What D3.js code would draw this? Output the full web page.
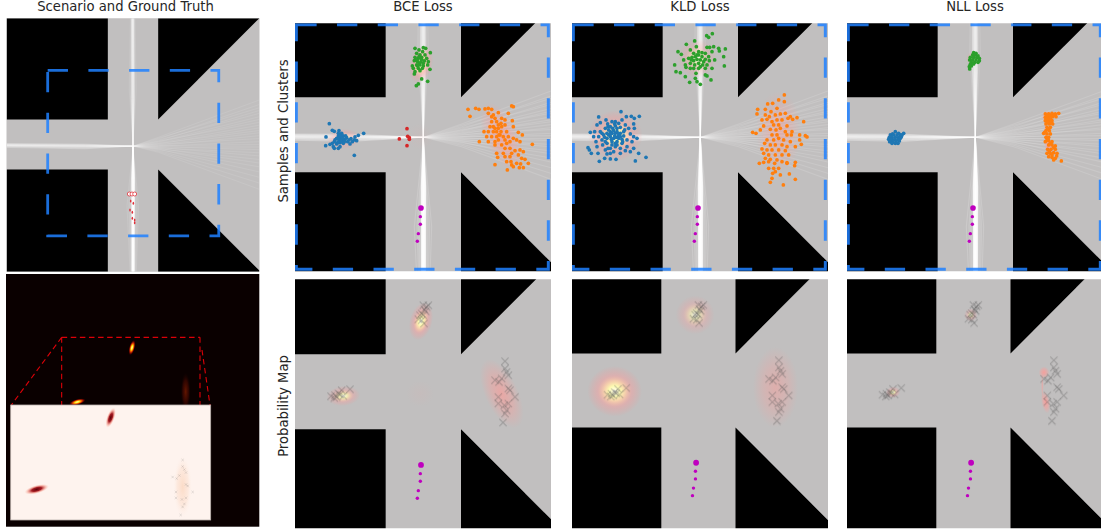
<!DOCTYPE html>
<html>
<head>
<meta charset="utf-8">
<script src="https://d3js.org/d3.v7.min.js"></script>
<style>
  body { margin: 0; background: #fff; }
  text { font-family: "DejaVu Sans", sans-serif; font-size: 13.2px; fill: #262626; }
</style>
</head>
<body>
<svg width="1101" height="531"></svg>
<script>
// scene units: 3 units = 1 px of the BCE crop
var losses = ["BCE Loss", "KLD Loss", "NLL Loss"];
var lossLeft = [295, 572, 847];
var lossOrigin = [60, 20, 35];
var bottomKx = [1, 0.985, 0.985];
var bottomKy = [1, 0.988, 0.988];

var blockTL = [[-122,-162],[332,-162],[332,292],[-122,292]];
var blockBL = [[-122,517],[332,517],[332,976],[-122,976]];
var blockTR = [[558,-162],[1012,-162],[558,292]];
var blockBR = [[558,517],[1012,971],[1012,976],[558,976]];

// observed track, first point is the current position
var observed = [[438,624],[436,650],[436,673],[430,701],[427,724]];

var centre = [445, 412];
var fanEndY = [205,225,240,252,265,280,292,305,318,330,342,352,365,378,392,405,416,428,442,456,472,488,505,528,552,578,606];
var fanMidY = [372,380,376,388,384,392,395,390,398,402,400,406,410,404,412,410,416,414,420,418,424,422,428,426,432,436,440];
var leftMidY = [403,405,407,408,409,410,411,412,413,414,415,417,419,421,424];
var leftEndY = [401,402,404,405,406,407,408,408,409,410,411,412,413,415,418];
var northMidX = [436,438,440,441,442,443,444,445,446,447,448,449,450,452];
var northEndX = [438,439,440,441,442,443,444,444,445,445,446,447,448,450];
var northOuterMidX = [428,432,455,460];
var northOuterEndX = [433,436,452,454];
var southMidX = [439,440,441,442,443,444,444,445,445,446,446,447,447,448,449,450,451,452];
var southEndX = [440,441,442,442,443,443,444,444,445,445,446,446,447,447,448,449,450,451];
var southOuterMidX = [418,426,430,433,436,454,457,460,464,470];
var southOuterEndX = [432,435,437,438,439,452,453,455,457,460];

var bceBlue = [[163,371],[172,391],[178,394],[192,392],[190,400],[153,411],[266,400],[250,406],[240,411],[228,416],[215,413],[200,400],[197,405],[205,408],[190,408],[185,415],[195,415],[210,418],[178,425],[172,430],[185,432],[195,428],[205,430],[218,425],[232,425],[238,420],[245,422],[225,432],[152,437],[165,433],[175,440],[190,445],[195,440],[178,445],[238,466],[205,420],[200,425],[192,422],[212,408],[188,428],[196,410],[203,415],[198,420],[190,416],[208,425],[222,420],[180,420]];
var bceOrange = [[579,328],[602,325],[612,328],[630,327],[640,325],[650,328],[710,318],[715,320],[585,349],[640,340],[655,345],[670,338],[660,355],[680,355],[700,340],[650,365],[665,365],[678,370],[690,360],[712,362],[645,380],[655,380],[670,385],[680,380],[690,375],[715,380],[627,395],[640,395],[655,395],[665,395],[678,395],[695,395],[730,397],[742,405],[635,410],[650,410],[665,410],[675,405],[700,410],[715,415],[613,425],[640,425],[660,425],[670,420],[690,420],[705,425],[725,420],[660,435],[680,435],[695,430],[735,425],[772,433],[690,445],[705,445],[720,452],[735,450],[745,455],[665,460],[685,460],[710,460],[730,465],[668,472],[690,470],[705,470],[740,475],[750,478],[695,485],[708,485],[725,490],[737,492],[760,490],[660,494],[710,495],[733,503],[745,503],[697,510],[715,500],[650,350],[672,405],[660,385],[685,410],[670,375]];
var bceGreen = [[420,145],[445,143],[452,145],[432,150],[443,155],[466,158],[425,160],[435,165],[450,165],[420,172],[430,175],[440,172],[455,175],[418,182],[428,185],[438,185],[448,183],[460,185],[412,198],[425,195],[435,195],[445,198],[458,195],[415,205],[430,205],[442,205],[465,208],[420,215],[435,212],[418,222],[440,237],[458,244],[430,252],[424,257],[425,180],[440,178],[433,190],[445,190],[432,170],[428,198]];
var bceRed = [[396,386],[398,409],[403,413],[403,418],[373,417],[396,437]];

var kldBlue = [[167,335],[100,351],[122,360],[150,365],[183,350],[198,349],[207,355],[222,349],[95,375],[105,368],[127,372],[140,365],[160,370],[170,360],[180,375],[205,372],[207,385],[75,397],[88,395],[105,395],[120,385],[135,380],[150,378],[165,382],[178,390],[190,385],[85,410],[100,410],[115,405],[125,400],[135,395],[145,392],[155,395],[165,400],[175,408],[195,402],[205,410],[215,415],[92,425],[110,420],[125,415],[135,410],[148,408],[158,410],[170,418],[185,420],[200,425],[68,443],[72,450],[95,440],[112,435],[125,430],[140,425],[155,425],[170,430],[185,440],[205,445],[78,460],[98,460],[120,450],[135,445],[150,440],[165,445],[180,452],[195,455],[102,484],[118,475],[135,477],[152,478],[125,462],[145,455],[165,460],[220,460],[242,472],[210,483],[135,460],[140,400],[150,400],[155,385],[145,415],[130,405],[160,415],[140,435],[150,430],[130,390],[165,410],[175,395],[120,425],[110,400],[155,435],[142,385],[128,380],[152,412],[138,418],[128,445],[160,402],[148,372],[118,412],[172,425],[136,402]];
var kldOrange = [[657,285],[640,300],[607,312],[657,305],[622,310],[577,328],[600,328],[617,335],[635,325],[575,342],[600,345],[612,350],[630,345],[645,342],[660,340],[675,350],[695,353],[590,360],[605,358],[620,365],[635,360],[650,360],[668,355],[682,358],[715,365],[595,378],[625,375],[640,375],[665,378],[585,390],[615,388],[632,390],[645,385],[660,395],[680,395],[562,397],[572,400],[620,405],[635,405],[665,405],[678,405],[703,405],[720,407],[725,411],[605,420],[625,420],[640,415],[655,420],[675,425],[703,420],[708,433],[598,430],[615,435],[630,435],[650,435],[665,440],[690,440],[590,447],[605,450],[620,450],[640,450],[660,452],[595,460],[610,465],[630,465],[650,465],[670,465],[600,475],[615,478],[635,480],[582,490],[595,487],[610,485],[628,490],[650,485],[665,490],[690,487],[688,497],[625,505],[640,505],[610,505],[672,522],[622,520],[645,525],[690,538],[620,535],[615,547],[654,555],[630,515],[665,488]];
var kldGreen = [[441,101],[424,107],[430,112],[363,133],[388,123],[393,140],[425,142],[433,142],[445,140],[440,155],[460,145],[462,153],[480,147],[338,155],[348,163],[375,150],[385,160],[400,155],[410,158],[420,160],[430,170],[475,170],[355,180],[370,175],[380,172],[390,170],[400,165],[410,170],[420,178],[432,182],[448,180],[328,195],[360,195],[375,190],[385,182],[395,178],[405,180],[415,185],[425,195],[440,205],[477,198],[332,215],[345,218],[362,202],[375,205],[388,195],[400,190],[412,195],[420,205],[392,220],[420,225],[425,228],[437,240],[360,230],[373,247],[390,235],[395,245],[405,253],[400,205],[385,205],[405,200],[395,165],[378,180]];

var nllBlue = [[180,395],[172,402],[190,400],[205,400],[165,405],[175,405],[185,405],[195,405],[200,405],[162,412],[170,412],[180,412],[190,412],[198,410],[160,418],[168,418],[178,418],[188,418],[195,415],[163,425],[172,425],[182,425],[192,423],[170,430],[180,430],[188,430]];
var nllOrange = [[630,342],[640,342],[650,340],[660,342],[670,340],[630,352],[640,352],[652,350],[662,350],[630,362],[640,362],[650,362],[632,372],[642,372],[652,372],[635,382],[645,382],[632,392],[642,392],[625,400],[635,402],[645,402],[632,412],[640,412],[630,425],[640,422],[650,425],[640,435],[650,435],[660,438],[637,448],[647,448],[660,448],[635,460],[645,460],[655,458],[665,460],[640,470],[650,472],[660,475],[655,480],[678,483],[635,347],[645,347],[657,345],[636,357],[646,357],[637,367],[647,367],[638,387],[628,397],[636,418],[645,430],[655,442],[642,455],[650,465],[664,468]];
var nllGreen = [[415,158],[422,160],[412,165],[420,165],[428,168],[405,172],[415,172],[425,172],[432,175],[403,180],[412,180],[422,180],[432,182],[408,187],[418,187],[428,187],[405,193],[415,192],[402,200],[408,198],[403,207]];

var clusterColors = ["#1f77b4", "#ff7f0e", "#2ca02c", "#d62728"];
var samples = [
  [bceBlue, bceOrange, bceGreen, bceRed],
  [kldBlue, kldOrange, kldGreen, []],
  [nllBlue, nllOrange, nllGreen, []]
];

// ground truth crosses on the probability maps
var gtGreen = [[445,100],[455,105],[448,112],[452,118],[440,125],[445,130],[435,130],[440,145],[430,142],[447,155],[460,100]];
var gtBlue = [[168,373],[180,370],[190,365],[200,355],[225,352],[185,375],[195,368],[205,372],[178,378]];
var gtOrange = [[690,268],[690,290],[695,300],[700,310],[660,325],[680,320],[672,330],[700,350],[705,355],[720,375],[670,375],[670,395],[688,400],[700,395],[695,415],[690,425],[684,452]];

// density blobs: x, y, spread x, spread y, tilt, palette, level
var heatBCE = [[438,148,34,58,15,"hot",1],[205,372,50,30,-5,"hot",0.8],[680,365,50,112,-25,"pink",0.75],[435,365,42,40,0,"pink",0.08]];
var heatKLD = [[395,130,58,58,0,"hot",0.6],[150,362,82,76,0,"hot",1],[640,350,68,122,0,"pink",0.55]];
var heatNLL = [[175,365,22,17,-10,"hot",0.75],[412,130,20,20,0,"hot",0.6],[635,305,16,18,0,"pink",1],[640,395,13,34,-10,"pink",1],[630,345,4,40,0,"pink",0.6]];
var heats = [heatBCE, heatKLD, heatNLL];

var mapBox = [62, 71.5, 830, 815];   // dashed box on the big map
var cropBox = [64, 74, 820, 808];    // same box seen in a crop
var truthRings = [[388,582],[396,582],[404,582]];
var truthDots = [[392,603],[400,610],[390,630],[397,637],[397,655],[404,660],[404,668]];

// bottom left panel, in image units
var hotBlobs = [[396,233,9,24,15,"fire",1],[232,396,26,9,-15,"fire",1],[557,365,15,58,0,"ember",0.45]];
var insetBlobs = [[332,443,12,32,20,"wine",1],[110,658,38,13,-15,"wine",1],[548,650,28,95,0,"peach",0.55]];
var zoomLines = [
  [[185,202],[600,202]], [[185,202],[185,405]], [[600,202],[600,405]],
  [[185,202],[34,405]], [[606,240],[630,405]]
];

var svg = d3.select("svg");
var defs = svg.append("defs");
defs.append("filter").attr("id", "soft").attr("x", "-5%").attr("y", "-5%").attr("width", "110%").attr("height", "110%")
  .append("feGaussianBlur").attr("stdDeviation", 0.45);

function gradient(id, stops) {
  var g = defs.append("radialGradient").attr("id", id);
  stops.forEach(function(s) {
    g.append("stop").attr("offset", s[0]).attr("stop-color", s[1]).attr("stop-opacity", s[2]);
  });
}
gradient("hot", [[0,"#fffff0",1],[0.22,"#fffbb0",0.97],[0.4,"#ffd0a8",0.82],[0.62,"#ff9c9c",0.42],[1,"#ff8c8c",0]]);
gradient("pink", [[0,"#ff9a96",0.85],[0.55,"#ff9a96",0.45],[1,"#ff9a96",0]]);
gradient("fire", [[0,"#ffffd0",1],[0.3,"#ffe000",1],[0.55,"#f04000",0.95],[0.8,"#700000",0.7],[1,"#200000",0]]);
gradient("ember", [[0,"#d03000",1],[0.6,"#801000",0.7],[1,"#200000",0]]);
gradient("wine", [[0,"#5a0008",1],[0.4,"#a01018",0.95],[0.72,"#f08070",0.5],[1,"#fdd0c0",0]]);
gradient("peach", [[0,"#f9c4a0",0.9],[0.6,"#fbd4bc",0.6],[1,"#fdf0e8",0]]);

var toPx = d3.scaleLinear().domain([0, 3]).range([0, 1]);
var timesSymbol = d3.symbol().type(d3.symbolTimes);

function drawBlobs(g, blobs, xs, ys) {
  g.selectAll(null).data(blobs).enter().append("ellipse")
    .attr("transform", function(d) { return "translate(" + xs(d[0]) + "," + ys(d[1]) + ") rotate(" + d[4] + ")"; })
    .attr("rx", function(d) { return toPx(d[2]); })
    .attr("ry", function(d) { return toPx(d[3]); })
    .attr("fill", function(d) { return "url(#" + d[5] + ")"; })
    .attr("opacity", function(d) { return d[6]; });
}

function drawMap(g, xs, ys) {
  var line = d3.line().x(function(d) { return xs(d[0]); }).y(function(d) { return ys(d[1]); });
  var m = g.append("g").attr("filter", "url(#soft)");
  m.append("path").attr("d", line([[-200,-300],[1200,-300],[1200,1200],[-200,1200]]) + "Z").attr("fill", "#c1bfbf");
  m.selectAll("path.block").data([blockTL, blockBL, blockTR, blockBR]).enter().append("path")
    .attr("d", function(d) { return line(d) + "Z"; }).attr("fill", "#000");
  return line;
}

function drawTraces(g, line, width) {
  var t = g.append("g").attr("fill", "none").attr("stroke", "#fff").attr("stroke-width", width).attr("filter", "url(#soft)");
  function add(paths, op) {
    t.selectAll(null).data(paths).enter().append("path").attr("d", line).attr("stroke-opacity", op);
  }
  add(fanEndY.map(function(e, i) { return [centre, [560, fanMidY[i]], [1012, e]]; }), 0.13);
  add(leftEndY.map(function(e, i) { return [centre, [230, leftMidY[i]], [-122, e]]; }), 0.3);
  add(northEndX.map(function(e, i) { return [centre, [northMidX[i], 200], [e, -162]]; }), 0.32);
  add(northOuterEndX.map(function(e, i) { return [centre, [northOuterMidX[i], 160], [e, -162]]; }), 0.12);
  add(southEndX.map(function(e, i) { return [centre, [southMidX[i], 560], [e, 976]]; }), 0.6);
  add(southOuterEndX.map(function(e, i) { return [centre, [southOuterMidX[i], 680], [e, 976]]; }), 0.16);
}

function clipTo(id, w, h) {
  defs.append("clipPath").attr("id", id).append("rect").attr("width", w).attr("height", h);
}

// Scenario and ground truth
var big = svg.append("g").attr("clip-path", "url(#bigClip)");
defs.append("clipPath").attr("id", "bigClip").append("rect").attr("x", 6.5).attr("y", 18.3).attr("width", 253).attr("height", 253.4);
var bigX = d3.scaleLinear().domain([-122, 1012]).range([6.7, 259.3]);
var bigY = d3.scaleLinear().domain([-162, 976]).range([18.3, 271.7]);
var bigLine = drawMap(big, bigX, bigY);
drawTraces(big, bigLine, 0.7);
var bg = svg.append("g");
bg.selectAll(".ring").data(truthRings).enter().append("circle").attr("class", "ring")
  .attr("cx", function(d) { return toPx(d[0]); }).attr("cy", function(d) { return toPx(d[1]); })
  .attr("r", 2).attr("fill", "#fff").attr("stroke", "#e0202a").attr("stroke-width", 0.7);
bg.selectAll(".dot").data(truthDots).enter().append("ellipse").attr("class", "dot")
  .attr("cx", function(d) { return toPx(d[0]); }).attr("cy", function(d) { return toPx(d[1]); })
  .attr("rx", 0.8).attr("ry", 1.5).attr("fill", "#e0303a");
bg.append("rect")
  .attr("x", bigX(mapBox[0])).attr("y", bigY(mapBox[1]))
  .attr("width", bigX(mapBox[2]) - bigX(mapBox[0])).attr("height", bigY(mapBox[3]) - bigY(mapBox[1]))
  .attr("fill", "none").attr("stroke", "#1e80ff").attr("stroke-opacity", 0.85)
  .attr("stroke-width", 2.8).attr("stroke-dasharray", "20.3 20.4");

// Heat panel with its inset
var heat = svg.append("g");
heat.append("rect").attr("x", 6).attr("y", 274).attr("width", 253.3).attr("height", 252.7).attr("fill", "#0a0000");
var hx = function(v) { return toPx(v); };
var hy = function(v) { return 270 + toPx(v); };
drawBlobs(heat, hotBlobs, hx, hy);
heat.selectAll("path.zoom").data(zoomLines).enter().append("path")
  .attr("d", d3.line().x(function(d) { return hx(d[0]); }).y(function(d) { return hy(d[1]); }))
  .attr("fill", "none").attr("stroke", "#dc0008").attr("stroke-width", 1.1).attr("stroke-dasharray", "5.5 3.6");
heat.append("rect").attr("x", hx(32)).attr("y", hy(405)).attr("width", toPx(600)).attr("height", toPx(345))
  .attr("fill", "#fef3ee").attr("stroke", "#b9aeaa").attr("stroke-width", 0.8);
drawBlobs(heat, insetBlobs, hx, hy);
var insetX = d3.scaleLinear().domain([690, 720]).range([hx(548), hx(578)]);
var insetY = d3.scaleLinear().domain([268, 452]).range([hy(570), hy(735)]);
heat.selectAll("path.igt").data(gtOrange).enter().append("path")
  .attr("d", timesSymbol.size(5)())
  .attr("transform", function(d) { return "translate(" + insetX(d[0]) + "," + insetY(d[1]) + ")"; })
  .attr("fill", "none").attr("stroke", "#555").attr("stroke-opacity", 0.3).attr("stroke-width", 0.5);

// Loss columns
losses.forEach(function(name, i) {
  var left = lossLeft[i], x0 = lossOrigin[i];

  // samples row
  var top = svg.append("g").attr("transform", "translate(" + left + ",23.3)").attr("clip-path", "url(#top" + i + ")");
  clipTo("top" + i, 256, 248);
  var mapX = d3.scaleLinear().domain([60, 828]).range([0, 256]);
  var mapY = d3.scaleLinear().domain([70, 814]).range([0, 248]);
  var line = drawMap(top, mapX, mapY);
  drawTraces(top, line, 1.05);
  var sx = d3.scaleLinear().domain([x0, x0 + 768]).range([0, 256]);
  drawBlobs(top, heats[i], sx, d3.scaleLinear().domain([25, 769]).range([0, 248]));
  top.append("rect")
    .attr("x", mapX(cropBox[0])).attr("y", mapY(cropBox[1]))
    .attr("width", mapX(cropBox[2]) - mapX(cropBox[0])).attr("height", mapY(cropBox[3]) - mapY(cropBox[1]))
    .attr("fill", "none").attr("stroke", "#1e80ff").attr("stroke-opacity", 0.85)
    .attr("stroke-width", 3).attr("stroke-dasharray", "20.3 20.4");
  samples[i].forEach(function(pts, c) {
    top.append("g").attr("fill", clusterColors[c]).selectAll("circle").data(pts).enter().append("circle")
      .attr("cx", function(d) { return sx(d[0]); })
      .attr("cy", function(d) { return mapY(d[1]); })
      .attr("r", 1.85);
  });
  top.append("g").attr("fill", "#bf00bf").selectAll("circle").data(observed).enter().append("circle")
    .attr("cx", function(d) { return mapX(d[0]); })
    .attr("cy", function(d) { return mapY(d[1]); })
    .attr("r", function(d, j) { return j === 0 ? 2.8 : 1.7; });

  // probability row
  var kx = bottomKx[i], ky = bottomKy[i];
  var low = svg.append("g").attr("transform", "translate(" + left + ",279.3)").attr("clip-path", "url(#low" + i + ")");
  clipTo("low" + i, 256, 249);
  var lowX = d3.scaleLinear().domain([60, 828]).range([0, 256 * kx]);
  var lowY = d3.scaleLinear().domain([67, 814]).range([0, 249 * ky]);
  drawMap(low, lowX, lowY);
  var hbx = d3.scaleLinear().domain([x0, x0 + 768]).range([0, 256 * kx]);
  var hby = d3.scaleLinear().domain([22, 769]).range([0, 249 * ky]);
  drawBlobs(low, heats[i], hbx, hby);
  low.append("g").attr("filter", "url(#soft)").selectAll("path").data(gtGreen.concat(gtBlue, gtOrange)).enter().append("path")
    .attr("d", timesSymbol.size(36)())
    .attr("transform", function(d) { return "translate(" + lowX(d[0]) + "," + hby(d[1]) + ")"; })
    .attr("fill", "none").attr("stroke", "#555").attr("stroke-opacity", 0.32).attr("stroke-width", 1.1);
  low.append("g").attr("fill", "#bf00bf").selectAll("circle").data(observed).enter().append("circle")
    .attr("cx", function(d) { return lowX(d[0]); })
    .attr("cy", function(d) { return lowY(d[1]); })
    .attr("r", function(d, j) { return j === 0 ? 2.9 : 1.7; });

  svg.append("text").attr("x", left + 128).attr("y", 11).attr("text-anchor", "middle").text(name);
});

svg.append("text").attr("x", 125.5).attr("y", 11).attr("text-anchor", "middle").text("Scenario and Ground Truth");
svg.append("text").attr("transform", "translate(287.5,131) rotate(-90)").attr("text-anchor", "middle").text("Samples and Clusters");
svg.append("text").attr("transform", "translate(287.5,406) rotate(-90)").attr("text-anchor", "middle").text("Probability Map");
</script>
</body>
</html>
